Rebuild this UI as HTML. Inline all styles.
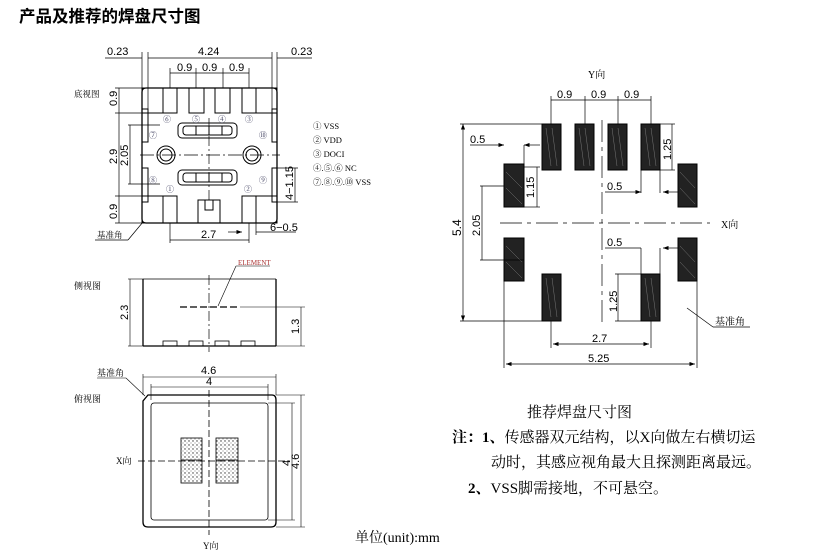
<!DOCTYPE html>
<html><head><meta charset="utf-8"><style>
html,body{margin:0;padding:0;background:#fff;}
svg{display:block;font-family:"Liberation Serif","Noto Serif CJK SC",serif;}
</style></head><body>
<svg width="821" height="559" viewBox="0 0 821 559" xmlns="http://www.w3.org/2000/svg">
<defs>
<marker id="a" markerWidth="8" markerHeight="6" refX="8" refY="3" orient="auto-start-reverse"><path d="M0,0 L8,3 L0,6z" fill="#000"/></marker>
<pattern id="dots" width="4" height="4" patternUnits="userSpaceOnUse"><rect width="4" height="4" fill="#fff"/><circle cx="1" cy="1" r="0.7" fill="#333"/><circle cx="3" cy="3" r="0.5" fill="#555"/></pattern>
</defs>
<text x="19" y="22" font-size="16.5" font-weight="bold" font-family="'Liberation Sans','Noto Sans CJK SC',sans-serif">产品及推荐的焊盘尺寸图</text>

<!-- ===== Bottom view ===== -->
<g stroke="#000" fill="none" stroke-width="1">
<path d="M146,88 H273 Q277,88 277,92 V219 Q277,223 273,223 H146 Q142,223 142,219 V92 Q142,88 146,88Z" stroke-width="1.3"/>
<rect x="163" y="88" width="14" height="25"/><rect x="189" y="88" width="15" height="25"/>
<rect x="215" y="88" width="15" height="25"/><rect x="242" y="88" width="14" height="25"/>
<rect x="163" y="196" width="14" height="27"/><rect x="242" y="196" width="14" height="27"/>
<rect x="142" y="88" width="21" height="25"/><rect x="256" y="88" width="21" height="25"/>
<rect x="142" y="196" width="21" height="27"/><rect x="256" y="196" width="21" height="27"/>
<rect x="142" y="109" width="6" height="33"/><rect x="142" y="168" width="6" height="34"/>
<rect x="272" y="109" width="5" height="33"/><rect x="272" y="168" width="5" height="34"/>
<rect x="198" y="200" width="22" height="23"/><rect x="205" y="200" width="8" height="10"/>
<rect x="178" y="123" width="59" height="15" rx="4"/><rect x="183" y="126" width="49" height="9" rx="3"/>
<rect x="178" y="170" width="59" height="15" rx="4"/><rect x="183" y="173" width="49" height="9" rx="3"/>
<line x1="196" y1="126" x2="196" y2="135"/><line x1="209" y1="126" x2="209" y2="135"/><line x1="222" y1="126" x2="222" y2="135"/>
<line x1="196" y1="173" x2="196" y2="182"/><line x1="209" y1="173" x2="209" y2="182"/><line x1="222" y1="173" x2="222" y2="182"/>
<circle cx="166" cy="155" r="9"/><circle cx="166" cy="155" r="6"/>
<circle cx="252" cy="155" r="9"/><circle cx="252" cy="155" r="6"/>
<line x1="140" y1="155" x2="280" y2="155" stroke-dasharray="14,3,2,3" stroke-width="0.7"/>
<line x1="209" y1="118" x2="209" y2="200" stroke-dasharray="10,3,2,3" stroke-width="0.7"/>
<g stroke-width="0.7">
<line x1="142" y1="52" x2="142" y2="90"/><line x1="148" y1="52" x2="148" y2="110"/>
<line x1="272" y1="52" x2="272" y2="110"/><line x1="277" y1="52" x2="277" y2="90"/>
<line x1="105" y1="58" x2="142" y2="58"/><line x1="277" y1="58" x2="312" y2="58"/>
<line x1="148" y1="58" x2="272" y2="58"/>
<line x1="170" y1="68" x2="170" y2="88"/><line x1="196" y1="68" x2="196" y2="88"/><line x1="223" y1="68" x2="223" y2="88"/><line x1="249" y1="68" x2="249" y2="88"/>
<line x1="170" y1="73" x2="249" y2="73"/>
<line x1="115" y1="88" x2="142" y2="88"/><line x1="115" y1="113" x2="142" y2="113"/>
<line x1="119" y1="88" x2="119" y2="113"/>
<line x1="115" y1="196" x2="142" y2="196"/><line x1="115" y1="223" x2="142" y2="223"/>
<line x1="119" y1="196" x2="119" y2="223"/>
<line x1="119" y1="113" x2="119" y2="196"/>
<line x1="128" y1="125" x2="160" y2="125"/><line x1="128" y1="184" x2="160" y2="184"/>
<line x1="130" y1="125" x2="130" y2="184"/>
<line x1="272" y1="168" x2="298" y2="168"/><line x1="272" y1="202" x2="298" y2="202"/>
<line x1="295" y1="168" x2="295" y2="202"/>
<line x1="170" y1="223" x2="170" y2="243"/><line x1="249" y1="223" x2="249" y2="243"/>
<line x1="170" y1="240" x2="249" y2="240"/>
<line x1="256" y1="223" x2="256" y2="235"/><line x1="256" y1="232" x2="296" y2="232"/>
<line x1="228" y1="232" x2="242" y2="232" marker-end="url(#a)"/>
<line x1="95" y1="240" x2="128" y2="240"/><line x1="128" y1="240" x2="143" y2="222"/>
</g>
</g>
<g font-size="11" font-family="'Liberation Sans',sans-serif" fill="#000">
<text x="107" y="55">0.23</text><text x="198" y="55">4.24</text><text x="291" y="55">0.23</text>
<text x="177" y="71">0.9</text><text x="202" y="71">0.9</text><text x="229" y="71">0.9</text>
<text transform="translate(117,106) rotate(-90)">0.9</text>
<text transform="translate(117,219) rotate(-90)">0.9</text>
<text transform="translate(117,164) rotate(-90)">2.9</text>
<text transform="translate(128,166) rotate(-90)">2.05</text>
<text transform="translate(293,200) rotate(-90)">4−1.15</text>
<text x="270" y="231">6−0.5</text>
<text x="201" y="238">2.7</text>
</g>
<g font-size="8" fill="#335">
<text x="163" y="122">⑥</text><text x="192" y="122">⑤</text><text x="218" y="122">④</text><text x="245" y="122">③</text>
<text x="149" y="138">⑦</text><text x="259" y="138">⑩</text><text x="149" y="183">⑧</text><text x="259" y="183">⑨</text>
<text x="166" y="192">①</text><text x="244" y="192">②</text>
</g>
<g font-size="8.5" fill="#000">
<text x="313" y="129">① VSS</text><text x="313" y="143">② VDD</text><text x="313" y="157">③ DOCI</text>
<text x="313" y="171">④.⑤.⑥ NC</text><text x="313" y="185">⑦.⑧.⑨.⑩ VSS</text>
<text x="74" y="97">底视图</text>
<text x="97" y="238">基准角</text>
</g>

<!-- ===== Side view ===== -->
<g stroke="#000" fill="none" stroke-width="0.8">
<line x1="143" y1="279" x2="276" y2="279"/><line x1="143" y1="346" x2="276" y2="346" stroke-width="1.3"/>
<line x1="143" y1="279" x2="143" y2="346" stroke-width="1.3"/><line x1="276" y1="279" x2="276" y2="346" stroke-width="1.3"/>
<rect x="163" y="341" width="14" height="5"/><rect x="189" y="341" width="14" height="5"/><rect x="215" y="341" width="14" height="5"/><rect x="241" y="341" width="14" height="5"/>
<line x1="180" y1="307" x2="240" y2="307" stroke-dasharray="7,3" stroke-width="1.3"/>
<line x1="209" y1="275" x2="209" y2="352" stroke-dasharray="10,3,2,3" stroke-width="0.7"/>
<line x1="128" y1="279" x2="143" y2="279" stroke-width="0.6"/><line x1="128" y1="346" x2="143" y2="346" stroke-width="0.6"/>
<line x1="130" y1="279" x2="130" y2="346" stroke-width="0.6"/>
<line x1="240" y1="307" x2="305" y2="307" stroke-width="0.6"/><line x1="276" y1="346" x2="305" y2="346" stroke-width="0.6"/>
<line x1="301" y1="307" x2="301" y2="346" stroke-width="0.6"/>
<line x1="218" y1="306" x2="236" y2="266" stroke-width="0.6"/><line x1="236" y1="266" x2="270" y2="266" stroke-width="0.6"/>
</g>
<text x="238" y="265" font-size="7" fill="#a33">ELEMENT</text>
<text x="74" y="289" font-size="9">侧视图</text>
<g font-size="11" font-family="'Liberation Sans',sans-serif">
<text transform="translate(128,320) rotate(-90)">2.3</text>
<text transform="translate(299,334) rotate(-90)">1.3</text>
</g>

<!-- ===== Top view ===== -->
<g stroke="#000" fill="none" stroke-width="0.8">
<path d="M148,395 H272 Q276,395 276,400 V522 Q276,527 271,527 H148 Q143,527 143,522 V401 Z" stroke-width="1.3"/>
<rect x="151" y="403" width="117" height="117" rx="3"/>
<rect x="181" y="438" width="21" height="45" fill="url(#dots)"/><rect x="216" y="438" width="22" height="45" fill="url(#dots)"/>
<line x1="181" y1="460" x2="202" y2="460"/><line x1="216" y1="460" x2="238" y2="460"/>
<line x1="138" y1="461" x2="290" y2="461" stroke-dasharray="7,3"/>
<line x1="209" y1="390" x2="209" y2="535" stroke-dasharray="7,3"/>
<g stroke-width="0.6">
<line x1="143" y1="374" x2="143" y2="395"/><line x1="276" y1="374" x2="276" y2="395"/>
<line x1="143" y1="377" x2="276" y2="377"/>
<line x1="151" y1="384" x2="151" y2="400"/><line x1="268" y1="384" x2="268" y2="400"/>
<line x1="151" y1="387" x2="268" y2="387"/>
<line x1="276" y1="395" x2="305" y2="395"/><line x1="276" y1="527" x2="305" y2="527"/>
<line x1="301" y1="395" x2="301" y2="527"/>
<line x1="268" y1="403" x2="295" y2="403"/><line x1="268" y1="520" x2="295" y2="520"/>
<line x1="292" y1="403" x2="292" y2="520"/>
<line x1="97" y1="378" x2="126" y2="378"/><line x1="126" y1="378" x2="145" y2="396"/>
</g>
</g>
<g font-size="11" font-family="'Liberation Sans',sans-serif">
<text x="201" y="374">4.6</text><text x="206" y="385">4</text>
<text transform="translate(299,469) rotate(-90)">4.6</text>
<text transform="translate(290,466) rotate(-90)">4</text>
</g>
<g font-size="9">
<text x="97" y="376">基准角</text><text x="74" y="402">俯视图</text>
<text x="116" y="464">X向</text><text x="203" y="549">Y向</text>
</g>

<!-- ===== Land pattern ===== -->
<g fill="#222" stroke="#000">
<rect x="542" y="124" width="19" height="46"/><rect x="575" y="124" width="19" height="46"/>
<rect x="608" y="124" width="19" height="46"/><rect x="641" y="124" width="19" height="46"/>
<rect x="504" y="164" width="20" height="43"/><rect x="678" y="164" width="19" height="43"/>
<rect x="504" y="238" width="20" height="43"/><rect x="678" y="238" width="19" height="43"/>
<rect x="542" y="274" width="19" height="47"/><rect x="641" y="274" width="19" height="47"/>
</g>
<g stroke="#777" stroke-width="0.5">
<line x1="546" y1="128" x2="551" y2="166"/><line x1="552" y1="128" x2="557" y2="166"/>
<line x1="579" y1="128" x2="584" y2="166"/><line x1="585" y1="128" x2="590" y2="166"/>
<line x1="612" y1="128" x2="617" y2="166"/><line x1="618" y1="128" x2="623" y2="166"/>
<line x1="645" y1="128" x2="650" y2="166"/><line x1="651" y1="128" x2="656" y2="166"/>
<line x1="546" y1="278" x2="551" y2="317"/><line x1="552" y1="278" x2="557" y2="317"/>
<line x1="645" y1="278" x2="650" y2="317"/><line x1="651" y1="278" x2="656" y2="317"/>
<line x1="506" y1="172" x2="522" y2="188"/><line x1="506" y1="188" x2="522" y2="204"/>
<line x1="680" y1="172" x2="695" y2="188"/><line x1="680" y1="188" x2="695" y2="204"/>
<line x1="506" y1="246" x2="522" y2="262"/><line x1="506" y1="262" x2="522" y2="278"/>
<line x1="680" y1="246" x2="695" y2="262"/><line x1="680" y1="262" x2="695" y2="278"/>
</g>
<g stroke="#000" fill="none" stroke-width="0.7">
<line x1="500" y1="223" x2="710" y2="223" stroke-dasharray="22,5,4,5"/>
<line x1="602" y1="120" x2="602" y2="325" stroke-dasharray="22,5,4,5"/>
<line x1="551" y1="96" x2="551" y2="124"/><line x1="585" y1="96" x2="585" y2="124"/><line x1="618" y1="96" x2="618" y2="124"/><line x1="651" y1="96" x2="651" y2="124"/>
<line x1="551" y1="100" x2="651" y2="100"/>
<line x1="460" y1="124" x2="542" y2="124"/><line x1="460" y1="321" x2="542" y2="321"/>
<line x1="463" y1="124" x2="463" y2="321" marker-start="url(#a)" marker-end="url(#a)"/>
<line x1="470" y1="145" x2="504" y2="145" marker-end="url(#a)"/><line x1="524" y1="145" x2="540" y2="145" marker-start="url(#a)"/>
<line x1="524" y1="145" x2="524" y2="164"/>
<line x1="480" y1="186" x2="504" y2="186"/><line x1="482" y1="186" x2="482" y2="260"/>
<line x1="480" y1="260" x2="524" y2="260"/>
<line x1="524" y1="167" x2="540" y2="167"/><line x1="524" y1="207" x2="540" y2="207"/><line x1="537" y1="167" x2="537" y2="207"/>
<line x1="660" y1="124" x2="675" y2="124"/><line x1="660" y1="170" x2="675" y2="170"/><line x1="672" y1="124" x2="672" y2="170"/>
<line x1="605" y1="192" x2="641" y2="192" marker-end="url(#a)"/><line x1="641" y1="170" x2="641" y2="193"/>
<line x1="660" y1="170" x2="660" y2="193"/><line x1="663" y1="192" x2="678" y2="192" marker-start="url(#a)"/>
<line x1="605" y1="248" x2="641" y2="248"/><line x1="641" y1="248" x2="641" y2="274"/><line x1="660" y1="248" x2="660" y2="274"/>
<line x1="663" y1="248" x2="678" y2="248" marker-start="url(#a)"/>
<line x1="615" y1="274" x2="641" y2="274"/><line x1="615" y1="321" x2="641" y2="321"/><line x1="618" y1="274" x2="618" y2="321"/>
<line x1="551" y1="321" x2="551" y2="348"/><line x1="651" y1="321" x2="651" y2="348"/>
<line x1="553" y1="344" x2="649" y2="344" marker-start="url(#a)" marker-end="url(#a)"/>
<line x1="504" y1="281" x2="504" y2="368"/><line x1="697" y1="281" x2="697" y2="368"/>
<line x1="506" y1="364" x2="695" y2="364" marker-start="url(#a)" marker-end="url(#a)"/>
<line x1="687" y1="308" x2="713" y2="327"/><line x1="713" y1="327" x2="750" y2="327"/>
</g>
<g font-size="11" font-family="'Liberation Sans',sans-serif">
<text x="557" y="98">0.9</text><text x="591" y="98">0.9</text><text x="624" y="98">0.9</text>
<text x="470" y="143">0.5</text><text x="607" y="190">0.5</text><text x="607" y="246">0.5</text>
<text transform="translate(461,236) rotate(-90)" font-size="12">5.4</text>
<text transform="translate(480,236) rotate(-90)">2.05</text>
<text transform="translate(534,198) rotate(-90)">1.15</text>
<text transform="translate(671,160) rotate(-90)">1.25</text>
<text transform="translate(617,312) rotate(-90)">1.25</text>
<text x="592" y="342">2.7</text><text x="588" y="362">5.25</text>
</g>
<g font-size="10">
<text x="588" y="78">Y向</text><text x="721" y="228">X向</text><text x="715" y="325">基准角</text>
</g>

<g font-size="15" fill="#000">
<text x="527" y="417">推荐焊盘尺寸图</text>
<text x="452" y="442"><tspan font-weight="bold">注：1、</tspan>传感器双元结构，以X向做左右横切运</text>
<text x="491" y="467">动时，其感应视角最大且探测距离最远。</text>
<text x="468" y="493"><tspan font-weight="bold">2、</tspan>VSS脚需接地，不可悬空。</text>
<text x="355" y="542" font-size="14">单位(unit):mm</text>
</g>
</svg>
</body></html>
